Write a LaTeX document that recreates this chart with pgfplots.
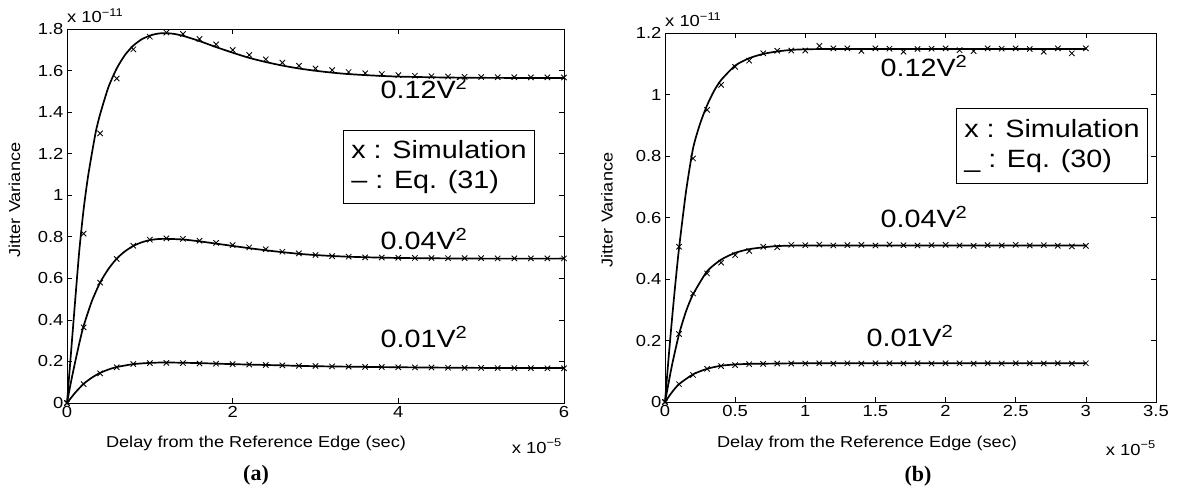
\documentclass[border=0pt]{standalone}
\usepackage{pgfplots}
\pgfplotsset{compat=1.18}
\usepackage{fontspec}
\setmainfont{Liberation Sans}[FakeStretch=1.15]
\newfontfamily\capfont{Liberation Serif}
\newcommand\tickfont{\fontsize{16}{18}\selectfont}
\newcommand\labfont{\fontsize{15.8}{18}\selectfont}
\newcommand\legfont{\fontsize{25}{30}\selectfont}
\newcommand\annfont{\fontsize{25}{28}\selectfont}
\pgfplotsset{
  jitter/.style={
    scale only axis, anchor=south west, clip=false,
    tick align=inside, major tick length=5pt,
    axis line style={line width=0.8pt},
    tick style={line width=0.6pt, black},
    ticklabel style={font=\tickfont},
    /pgf/number format/assume math mode=true,
  },
  sim/.style={black, only marks, mark=x, mark size=3.8pt, mark options={line width=0.85pt}},
  eq/.style={black, line width=1.7pt, smooth, tension=0.4},
}
\begin{document}
\begin{tikzpicture}
\useasboundingbox (0,0) rectangle (1179pt,491pt);
% ---------------- (a)
\begin{axis}[jitter,
  at={(67pt,88pt)}, width=497pt, height=374pt,
  xmin=0, xmax=6, ymin=0, ymax=1.8,
  xtick={0,2,4,6}, xticklabels={0,2,4,6},
  ytick={0,0.2,0.4,0.6,0.8,1,1.2,1.4,1.6,1.8},
  yticklabels={0,0.2,0.4,0.6,0.8,1,1.2,1.4,1.6,1.8},
  xlabel={Delay from the Reference Edge (sec)},
  every axis x label/.style={at={([xshift=-59.5pt,yshift=-44pt]rel axis cs:0.5,0)}, anchor=base, font=\labfont},
  ylabel={Jitter Variance},
  every axis y label/.style={at={([xshift=-52.5pt,yshift=16pt]rel axis cs:0,0.5)}, rotate=90, anchor=center, font=\labfont},
]
\addplot[eq] coordinates {(0,0) (0.05,0.25) (0.1,0.50) (0.15,0.74) (0.2,0.93) (0.25,1.08) (0.3,1.20) (0.35,1.31) (0.4,1.39) (0.5,1.52) (0.6,1.61) (0.7,1.675) (0.8,1.72) (0.9,1.75) (1.0,1.768) (1.1,1.778) (1.2,1.78) (1.3,1.776) (1.4,1.767) (1.5,1.755) (1.6,1.742) (1.8,1.713) (2.0,1.686) (2.2,1.661) (2.4,1.641) (2.6,1.624) (2.8,1.610) (3.0,1.599) (3.2,1.590) (3.4,1.583) (3.7,1.576) (4.0,1.571) (4.5,1.567) (5.0,1.565) (6.0,1.564)};
\addplot[eq] coordinates {(0,0) (0.05,0.105) (0.1,0.2) (0.15,0.29) (0.2,0.37) (0.3,0.49) (0.4,0.58) (0.5,0.645) (0.6,0.695) (0.7,0.73) (0.8,0.756) (0.9,0.773) (1.0,0.784) (1.1,0.789) (1.2,0.79) (1.4,0.787) (1.6,0.778) (1.8,0.767) (2.0,0.756) (2.2,0.745) (2.4,0.735) (2.6,0.726) (2.8,0.718) (3.0,0.712) (3.4,0.704) (4.0,0.698) (5.0,0.695) (6.0,0.695)};
\addplot[eq] coordinates {(0,0) (0.1,0.05) (0.2,0.092) (0.3,0.122) (0.4,0.145) (0.5,0.161) (0.6,0.173) (0.8,0.187) (1.0,0.193) (1.2,0.195) (1.6,0.192) (2.0,0.187) (2.5,0.182) (3.0,0.177) (4.0,0.172) (5.0,0.169) (6.0,0.168)};
\addplot[sim] coordinates {(0,0) (0.2,0.815) (0.4,1.298) (0.6,1.562) (0.8,1.702) (1.0,1.763) (1.2,1.783) (1.4,1.776) (1.6,1.752) (1.8,1.726) (2.0,1.699) (2.2,1.675) (2.4,1.654) (2.6,1.638) (2.8,1.623) (3.0,1.610) (3.2,1.602) (3.4,1.593) (3.6,1.587) (3.8,1.583) (4.0,1.578) (4.2,1.575) (4.4,1.573) (4.6,1.571) (4.8,1.570) (5.0,1.569) (5.2,1.568) (5.4,1.568) (5.6,1.567) (5.8,1.567) (6.0,1.567)};
\addplot[sim] coordinates {(0,0) (0.2,0.364) (0.4,0.579) (0.6,0.693) (0.8,0.757) (1.0,0.786) (1.2,0.792) (1.4,0.790) (1.6,0.781) (1.8,0.771) (2.0,0.760) (2.2,0.749) (2.4,0.740) (2.6,0.728) (2.8,0.720) (3.0,0.712) (3.2,0.707) (3.4,0.704) (3.6,0.701) (3.8,0.700) (4.0,0.699) (4.2,0.698) (4.4,0.698) (4.6,0.697) (4.8,0.697) (5.0,0.697) (5.2,0.696) (5.4,0.696) (5.6,0.696) (5.8,0.696) (6.0,0.696)};
\addplot[sim] coordinates {(0,0) (0.2,0.091) (0.4,0.143) (0.6,0.172) (0.8,0.188) (1.0,0.192) (1.2,0.193) (1.4,0.192) (1.6,0.190) (1.8,0.189) (2.0,0.187) (2.2,0.185) (2.4,0.183) (2.6,0.181) (2.8,0.179) (3.0,0.178) (3.2,0.176) (3.4,0.175) (3.6,0.174) (3.8,0.173) (4.0,0.172) (4.2,0.171) (4.4,0.171) (4.6,0.170) (4.8,0.169) (5.0,0.169) (5.2,0.168) (5.4,0.168) (5.6,0.168) (5.8,0.167) (6.0,0.167)};
\node[font=\annfont, inner sep=0pt] at (axis cs:4.31,1.516) {0.12V\textsuperscript{2}};
\node[font=\annfont, inner sep=0pt] at (axis cs:4.31,0.789) {0.04V\textsuperscript{2}};
\node[font=\annfont, inner sep=0pt] at (axis cs:4.31,0.318) {0.01V\textsuperscript{2}};
\node[draw, line width=0.8pt, anchor=north west, align=left, font=\legfont, inner xsep=8pt, inner ysep=4pt, minimum width=190pt, minimum height=73pt] at (axis cs:3.332,1.314) {x : Simulation\\– : Eq. (31)};
\node[font=\tickfont, anchor=south west, inner sep=0pt] at ([yshift=6pt]rel axis cs:0,1) {x 10\textsuperscript{−11}};
\node[font=\tickfont, anchor=base east, inner sep=0pt] at ([xshift=-2pt,yshift=-50pt]rel axis cs:1,0) {x 10\textsuperscript{−5}};
\end{axis}
\node[font=\capfont\bfseries\fontsize{22}{24}\selectfont] at (256pt,16pt) {(a)};
% ---------------- (b)
\begin{axis}[jitter,
  at={(665pt,89pt)}, width=491pt, height=369pt,
  xmin=0, xmax=3.5, ymin=0, ymax=1.2,
  xtick={0,0.5,1,1.5,2,2.5,3,3.5}, xticklabels={0,0.5,1,1.5,2,2.5,3,3.5},
  ytick={0,0.2,0.4,0.6,0.8,1,1.2},
  yticklabels={0,0.2,0.4,0.6,0.8,1,1.2},
  xlabel={Delay from the Reference Edge (sec)},
  every axis x label/.style={at={([xshift=-43.5pt,yshift=-45pt]rel axis cs:0.5,0)}, anchor=base, font=\labfont},
  ylabel={Jitter Variance},
  every axis y label/.style={at={([xshift=-58pt,yshift=7.5pt]rel axis cs:0,0.5)}, rotate=90, anchor=center, font=\labfont},
]
\addplot[eq] coordinates {(0,0) (0.025,0.14) (0.05,0.27) (0.075,0.39) (0.1,0.50) (0.15,0.685) (0.2,0.825) (0.25,0.905) (0.3,0.965) (0.35,1.012) (0.4,1.047) (0.5,1.094) (0.6,1.118) (0.7,1.132) (0.8,1.140) (0.9,1.145) (1.0,1.147) (1.2,1.148) (2.0,1.148) (3.0,1.148)};
\addplot[eq] coordinates {(0,0) (0.05,0.12) (0.1,0.22) (0.15,0.295) (0.2,0.35) (0.3,0.425) (0.4,0.463) (0.5,0.485) (0.6,0.497) (0.7,0.503) (0.8,0.507) (1.0,0.509) (2.0,0.509) (3.0,0.509)};
\addplot[eq] coordinates {(0,0) (0.05,0.032) (0.1,0.058) (0.2,0.09) (0.3,0.108) (0.4,0.118) (0.5,0.122) (0.6,0.124) (0.8,0.125) (1.0,0.126) (2.0,0.126) (3.0,0.126)};
\addplot[sim] coordinates {(0,0) (0.1,0.505) (0.2,0.792) (0.3,0.950) (0.4,1.031) (0.5,1.090) (0.6,1.110) (0.7,1.134) (0.8,1.142) (0.9,1.143) (1.0,1.143) (1.1,1.158) (1.2,1.150) (1.3,1.150) (1.4,1.142) (1.5,1.150) (1.6,1.149) (1.7,1.139) (1.8,1.148) (1.9,1.149) (2.0,1.150) (2.1,1.144) (2.2,1.141) (2.3,1.150) (2.4,1.149) (2.5,1.150) (2.6,1.148) (2.7,1.139) (2.8,1.150) (2.9,1.134) (3.0,1.150)};
\addplot[sim] coordinates {(0,0) (0.1,0.221) (0.2,0.353) (0.3,0.418) (0.4,0.453) (0.5,0.478) (0.6,0.491) (0.7,0.505) (0.8,0.503) (0.9,0.511) (1.0,0.510) (1.1,0.512) (1.2,0.509) (1.3,0.510) (1.4,0.511) (1.5,0.509) (1.6,0.512) (1.7,0.510) (1.8,0.509) (1.9,0.510) (2.0,0.511) (2.1,0.509) (2.2,0.508) (2.3,0.510) (2.4,0.509) (2.5,0.511) (2.6,0.509) (2.7,0.510) (2.8,0.508) (2.9,0.506) (3.0,0.508)};
\addplot[sim] coordinates {(0,0) (0.1,0.058) (0.2,0.088) (0.3,0.108) (0.4,0.117) (0.5,0.120) (0.6,0.123) (0.7,0.124) (0.8,0.125) (0.9,0.125) (1.0,0.125) (1.1,0.126) (1.2,0.125) (1.3,0.126) (1.4,0.125) (1.5,0.126) (1.6,0.126) (1.7,0.125) (1.8,0.126) (1.9,0.125) (2.0,0.126) (2.1,0.126) (2.2,0.125) (2.3,0.126) (2.4,0.125) (2.5,0.126) (2.6,0.126) (2.7,0.125) (2.8,0.126) (2.9,0.125) (3.0,0.126)};
\node[font=\annfont, inner sep=0pt] at (axis cs:1.846,1.093) {0.12V\textsuperscript{2}};
\node[font=\annfont, inner sep=0pt] at (axis cs:1.846,0.602) {0.04V\textsuperscript{2}};
\node[font=\annfont, inner sep=0pt] at (axis cs:1.746,0.215) {0.01V\textsuperscript{2}};
\node[draw, line width=0.8pt, anchor=north west, align=left, font=\legfont, inner xsep=8pt, inner ysep=4pt, minimum width=190pt, minimum height=75pt] at (axis cs:2.074,0.956) {x : Simulation\\\_ : Eq. (30)};
\node[font=\tickfont, anchor=south west, inner sep=0pt] at ([yshift=6pt]rel axis cs:0,1) {x 10\textsuperscript{−11}};
\node[font=\tickfont, anchor=base east, inner sep=0pt] at ([yshift=-53pt]rel axis cs:1,0) {x 10\textsuperscript{−5}};
\end{axis}
\node[font=\capfont\bfseries\fontsize{22}{24}\selectfont] at (918pt,15pt) {(b)};
\end{tikzpicture}
\end{document}
